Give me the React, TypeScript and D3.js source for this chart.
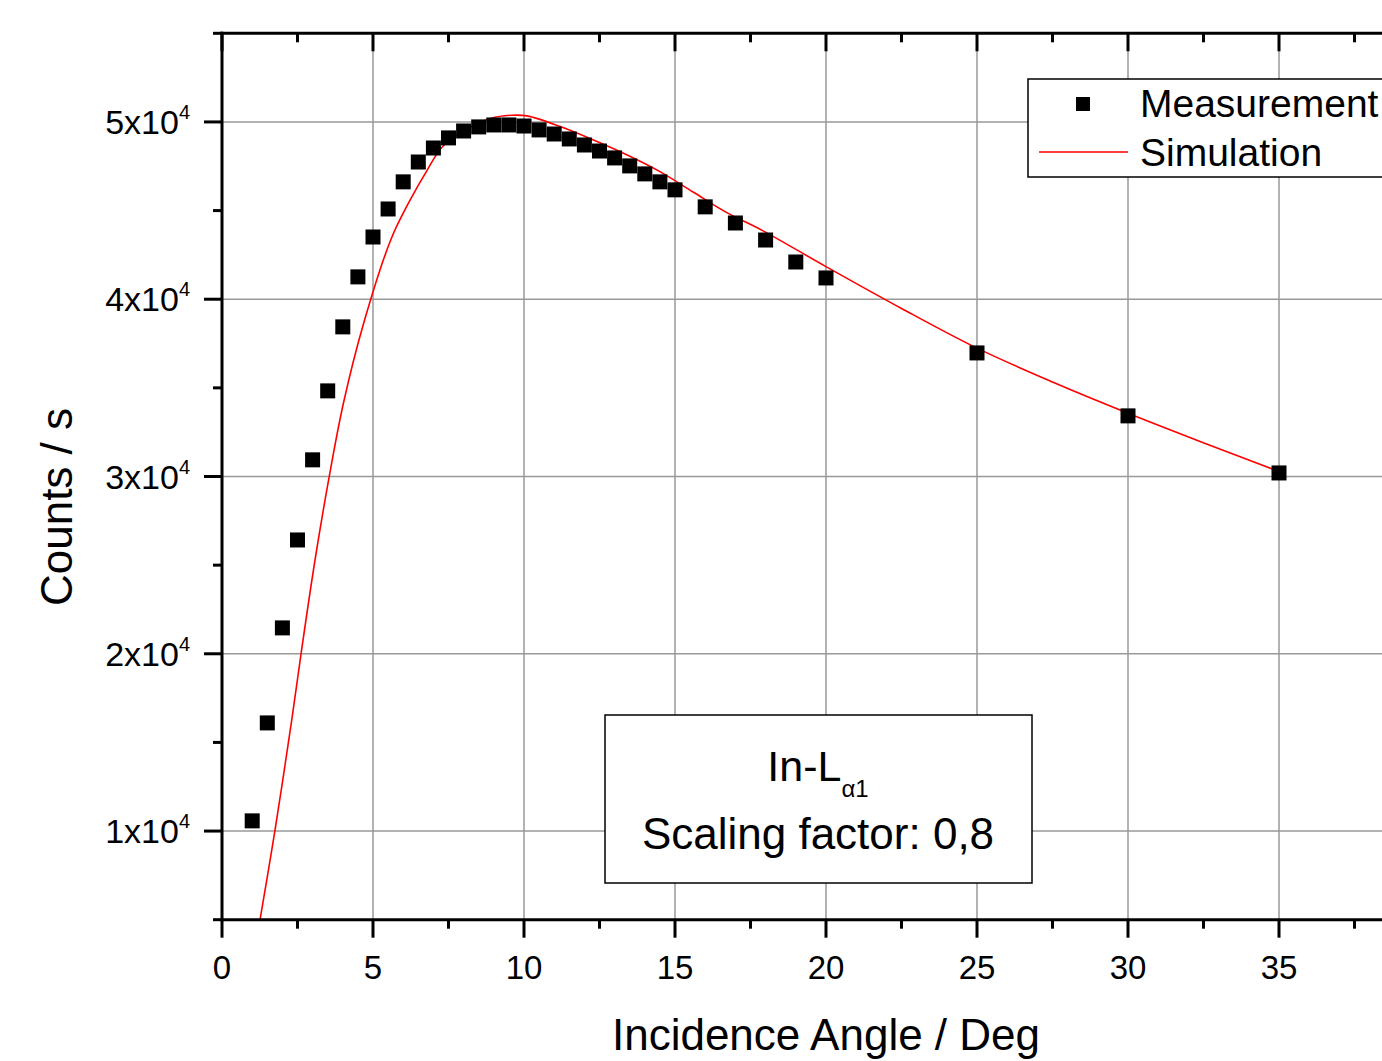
import React from 'react';
import * as d3 from 'd3';

// Measured points (angle in deg, counts per second)
const measAngle = [1, 1.5, 2, 2.5, 3, 3.5, 4, 4.5, 5, 5.5, 6, 6.5, 7, 7.5, 8, 8.5, 9, 9.5, 10, 10.5, 11, 11.5, 12, 12.5, 13, 13.5, 14, 14.5, 15, 16, 17, 18, 19, 20, 25, 30, 35];
const measCounts = [10575, 16100, 21460, 26420, 30940, 34830, 38440, 41260, 43510, 45090, 46620, 47740, 48530, 49100, 49490, 49720, 49830, 49830, 49770, 49550, 49320, 49040, 48700, 48360, 47970, 47520, 47070, 46620, 46170, 45210, 44300, 43340, 42100, 41200, 36970, 33420, 30200];

// Simulated curve
const simAngle = [1.26, 1.75, 2.31, 2.62, 3.08, 3.55, 4.02, 4.7, 5.6, 6.2, 6.8, 7.3, 8.1, 8.9, 9.6, 10.1, 11.2, 12.3, 13.4, 14.5, 15.6, 16.7, 17.9, 20.0, 22.5, 25.0, 27.5, 30.0, 32.6, 35.0];
const simCounts = [5000, 10000, 16270, 20030, 25290, 29990, 34130, 38700, 43400, 45500, 47300, 48600, 49600, 50200, 50380, 50340, 49740, 48980, 48150, 47200, 46050, 44900, 43870, 41840, 39480, 37240, 35330, 33570, 31840, 30280];

const xMajor = [0, 5, 10, 15, 20, 25, 30, 35, 40];
const xMinor = [2.5, 7.5, 12.5, 17.5, 22.5, 27.5, 32.5, 37.5];
const yMajor = [10000, 20000, 30000, 40000, 50000];
const yMinor = [5000, 15000, 25000, 35000, 45000, 55000];
const yLabels = ['1x10', '2x10', '3x10', '4x10', '5x10'];

const W = 1382;
const H = 1061;
const FONT = '"Liberation Sans", Arial, sans-serif';

const App = () => {
  const x = d3.scaleLinear().domain([0, 40]).range([222, 222 + 40 * 30.2]);
  const y = d3.scaleLinear().domain([5000, 55000]).range([919.7, 33.3]);
  const top = y(55000);
  const bottom = y(5000);
  const left = x(0);
  const right = x(40);

  const simData = simAngle.map((a, i) => [a, simCounts[i]] as [number, number]);
  const line = d3.line<[number, number]>()
    .x(d => x(d[0]))
    .y(d => y(d[1]))
    .curve(d3.curveCatmullRom.alpha(0.5));

  const majorLen = 18;
  const minorLen = 9;
  const axisW = 3;

  return (
    <svg width={W} height={H} style={{ position: 'absolute', left: 0, top: 0, background: '#fff' }} fontFamily={FONT}>
      <rect x={0} y={0} width={W} height={H} fill="#fff" />

      {/* grid */}
      <g stroke="#999" strokeWidth={1.5}>
        {xMajor.filter(v => v > 0).map(v => (
          <line key={'gx' + v} x1={x(v)} x2={x(v)} y1={top} y2={bottom} />
        ))}
        {yMajor.map(v => (
          <line key={'gy' + v} x1={left} x2={right} y1={y(v)} y2={y(v)} />
        ))}
      </g>

      {/* simulation */}
      <path d={line(simData) || ''} fill="none" stroke="#ff0000" strokeWidth={1.6} />

      {/* measurement */}
      <g fill="#000">
        {measAngle.map((a, i) => (
          <rect key={'m' + i} x={x(a) - 7.5} y={y(measCounts[i]) - 7.5} width={15} height={15} />
        ))}
      </g>

      {/* axes */}
      <g stroke="#000" strokeWidth={axisW}>
        <line x1={left} x2={left} y1={top - 1.5} y2={bottom + 1.5} />
        <line x1={left - 1.5} x2={right} y1={top} y2={top} />
        <line x1={left - 1.5} x2={right} y1={bottom} y2={bottom} />
        {xMajor.map(v => (
          <g key={'xt' + v}>
            <line x1={x(v)} x2={x(v)} y1={bottom} y2={bottom + majorLen} />
            <line x1={x(v)} x2={x(v)} y1={top} y2={top + majorLen} />
          </g>
        ))}
        {xMinor.map(v => (
          <g key={'xm' + v}>
            <line x1={x(v)} x2={x(v)} y1={bottom} y2={bottom + minorLen} />
            <line x1={x(v)} x2={x(v)} y1={top} y2={top + minorLen} />
          </g>
        ))}
        {yMajor.map(v => (
          <line key={'yt' + v} x1={left - majorLen} x2={left} y1={y(v)} y2={y(v)} />
        ))}
        {yMinor.map(v => (
          <line key={'ym' + v} x1={left - minorLen} x2={left} y1={y(v)} y2={y(v)} />
        ))}
      </g>

      {/* x tick labels */}
      <g fontSize={33} textAnchor="middle" fill="#000">
        {xMajor.filter(v => v <= 35).map(v => (
          <text key={'xl' + v} x={x(v)} y={979}>{v}</text>
        ))}
      </g>

      {/* y tick labels */}
      <g fontSize={34} textAnchor="end" fill="#000">
        {yMajor.map((v, i) => (
          <text key={'yl' + v} x={190} y={y(v) + 12}>
            {yLabels[i]}
            <tspan fontSize={20} dy={-15}>4</tspan>
          </text>
        ))}
      </g>

      {/* axis titles */}
      <text x={826} y={1050} fontSize={44} textAnchor="middle" fill="#000">Incidence Angle / Deg</text>
      <text transform="translate(72,507) rotate(-90)" fontSize={44} textAnchor="middle" fill="#000">Counts / s</text>

      {/* legend */}
      <rect x={1028} y={79} width={400} height={98} fill="#fff" stroke="#000" strokeWidth={1.5} />
      <rect x={1083 - 7} y={104 - 7} width={14} height={14} fill="#000" />
      <line x1={1039} x2={1128} y1={152} y2={152} stroke="#ff0000" strokeWidth={1.5} />
      <text x={1140} y={117} fontSize={39} fill="#000">Measurement</text>
      <text x={1140} y={166} fontSize={39} fill="#000">Simulation</text>

      {/* annotation */}
      <rect x={605} y={715} width={427} height={168} fill="#fff" stroke="#000" strokeWidth={1.5} />
      <text x={818} y={781} fontSize={43} textAnchor="middle" fill="#000">
        In-L<tspan fontSize={24} dy={16}>α1</tspan>
      </text>
      <text x={818} y={849} fontSize={44} textAnchor="middle" fill="#000">Scaling factor: 0,8</text>
    </svg>
  );
};

export default App;
